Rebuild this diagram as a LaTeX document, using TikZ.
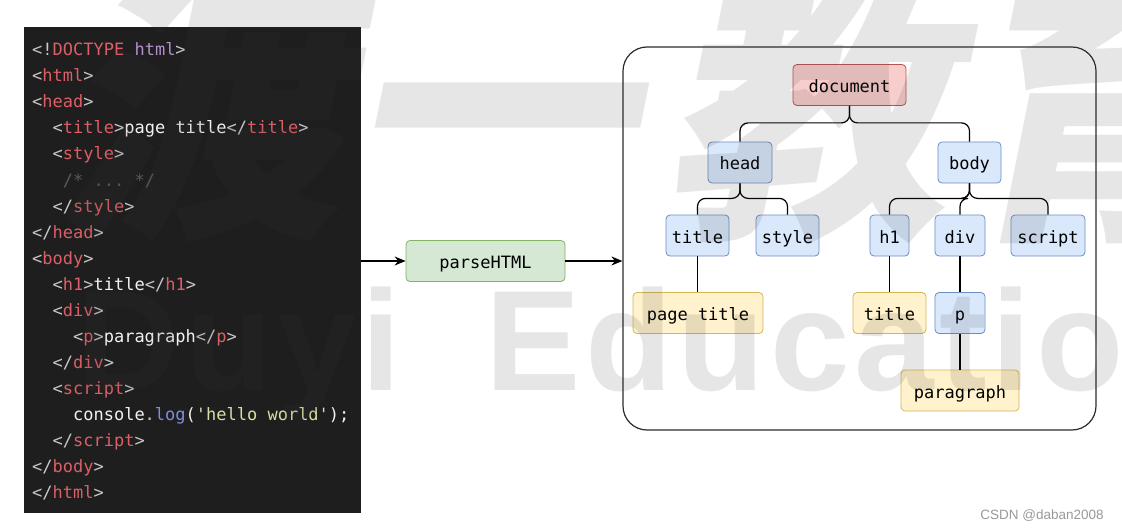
\documentclass[tikz,border=0pt]{standalone}
\usepackage{fontspec}
\setmonofont{DejaVu Sans Mono}
\newfontfamily\wmfont{Liberation Sans}[LetterSpace=3.5]
\newfontfamily\csdnfont{Liberation Sans}
\newfontfamily\cjkfont{Noto Sans CJK SC}
\usetikzlibrary{arrows.meta}

\definecolor{codebg}{HTML}{1E1E1E}
\definecolor{codepunct}{HTML}{C8C8C8}
\definecolor{codetag}{HTML}{DD5E66}
\definecolor{codetext}{HTML}{F2F2F2}
\definecolor{codeattr}{HTML}{B58FD0}
\definecolor{codecomment}{HTML}{5A5A5A}
\definecolor{codefunc}{HTML}{7D8EE0}
\definecolor{codestr}{HTML}{D8DFA2}
\definecolor{nodeblue}{HTML}{DAE8FC}
\definecolor{nodeblueline}{HTML}{6C8EBF}
\definecolor{nodered}{HTML}{F8CECC}
\definecolor{noderedline}{HTML}{B85450}
\definecolor{nodeyellow}{HTML}{FFF2CC}
\definecolor{nodeyellowline}{HTML}{D6B656}
\definecolor{nodegreen}{HTML}{D5E8D4}
\definecolor{nodegreenline}{HTML}{82B366}
\definecolor{framecol}{HTML}{2B2B2B}
\definecolor{wmgray}{HTML}{3A3A3A}
\definecolor{csdngray}{HTML}{999999}

\newcommand{\codefont}{\ttfamily\fontsize{17}{20}\selectfont}
\newcommand{\opentag}[1]{\textcolor{codepunct}{<}\textcolor{codetag}{#1}\textcolor{codepunct}{>}}
\newcommand{\closetag}[1]{\textcolor{codepunct}{</}\textcolor{codetag}{#1}\textcolor{codepunct}{>}}

\begin{document}
\begin{tikzpicture}[x=1pt,y=-1pt,
  codeline/.style={anchor=base west, inner sep=0pt, font=\codefont, text=codetext},
  treebox/.style={draw, rounded corners=4pt, line width=0.8pt, minimum height=41pt,
    inner sep=0pt, text height=15pt, text depth=0pt, font=\codefont},
  bluebox/.style={treebox, fill=nodeblue, draw=nodeblueline},
  redbox/.style={treebox, fill=nodered, draw=noderedline},
  yellowbox/.style={treebox, fill=nodeyellow, draw=nodeyellowline},
  greenbox/.style={treebox, fill=nodegreen, draw=nodegreenline},
  edge/.style={line width=1.2pt, rounded corners=8pt},
  arrow/.style={line width=1.4pt, -{Stealth[length=11pt,width=9pt]}},
  watermark/.style={inner sep=0pt, text=wmgray, opacity=0.125, font=\wmfont\bfseries\fontsize{143}{150}\selectfont},
  cjkmark/.style={inner sep=0pt, text=wmgray, opacity=0.125, xslant=0.2, transform shape,
    font=\cjkfont\bfseries\fontsize{285}{290}\selectfont}]
\useasboundingbox (0,0) rectangle (1122,532);

% source code panel
\node[fill=codebg, minimum width=337pt, minimum height=486pt, inner sep=0pt] (code) at (192.5,270) {};
\node[codeline] (l1) at (32,56) {\textcolor{codepunct}{<!}\textcolor{codetag}{DOCTYPE} \textcolor{codeattr}{html}\textcolor{codepunct}{>}};
\node[codeline] (l2) at (32,82) {\opentag{html}};
\node[codeline] (l3) at (32,108) {\opentag{head}};
\node[codeline] (l4) at (52.5,134) {\opentag{title}page title\closetag{title}};
\node[codeline] (l5) at (52.5,160) {\opentag{style}};
\node[codeline] (l6) at (62.7,186) {\textcolor{codecomment}{/* ... */}};
\node[codeline] (l7) at (52.5,212) {\closetag{style}};
\node[codeline] (l8) at (32,238) {\closetag{head}};
\node[codeline] (l9) at (32,264) {\opentag{body}};
\node[codeline] (l10) at (52.5,290) {\opentag{h1}title\closetag{h1}};
\node[codeline] (l11) at (52.5,316) {\opentag{div}};
\node[codeline] (l12) at (72.9,342) {\opentag{p}paragraph\closetag{p}};
\node[codeline] (l13) at (52.5,368) {\closetag{div}};
\node[codeline] (l14) at (52.5,394) {\opentag{script}};
\node[codeline] (l15) at (72.9,420) {console\textcolor{codepunct}{.}\textcolor{codefunc}{log}(\textcolor{codestr}{'hello world'});};
\node[codeline] (l16) at (52.5,446) {\closetag{script}};
\node[codeline] (l17) at (32,472) {\closetag{body}};
\node[codeline] (l18) at (32,498) {\closetag{html}};

% parser
\node[greenbox, minimum width=159pt] (parse) at (485.5,261) {parseHTML};

% DOM tree
\node[draw=framecol, line width=1.2pt, rounded corners=24pt, minimum width=473pt,
  minimum height=383pt, inner sep=0pt] (dom) at (859.5,238.5) {};
\node[redbox, minimum width=113pt] (document) at (849.5,85) {document};
\node[bluebox, minimum width=64pt] (head) at (740,162.5) {head};
\node[bluebox, minimum width=63pt] (body) at (969.5,162.5) {body};
\node[bluebox, minimum width=63pt] (title) at (697.5,235.5) {title};
\node[bluebox, minimum width=63pt] (style) at (787.5,235.5) {style};
\node[bluebox, minimum width=39pt] (h1) at (889.5,235.5) {h1};
\node[bluebox, minimum width=50pt] (div) at (960,235.5) {div};
\node[bluebox, minimum width=74pt] (script) at (1048,235.5) {script};
\node[yellowbox, minimum width=130pt] (pagetitle) at (698,313) {page title};
\node[yellowbox, minimum width=73pt] (h1text) at (889.5,313) {title};
\node[bluebox, minimum width=50pt] (p) at (960,313) {p};
\node[yellowbox, minimum width=118pt] (paragraph) at (960,390.5) {paragraph};

\draw[edge] (document.south) -- ++(0,17) -| (head.north);
\draw[edge] (document.south) -- ++(0,17) -| (body.north);
\draw[edge] (head.south) -- ++(0,15) -| (title.north);
\draw[edge] (head.south) -- ++(0,15) -| (style.north);
\draw[edge] (body.south) -- ++(0,15) -| (h1.north);
\draw[edge] (body.south) -- ++(0,15) -| (div.north);
\draw[edge] (body.south) -- ++(0,15) -| (script.north);
\draw[edge] (title.south) -- (title.south |- pagetitle.north);
\draw[edge] (h1.south) -- (h1text.north);
\draw[edge] (div.south) -- (p.north);
\draw[edge] (p.south) -- (paragraph.north);

% arrows
\draw[arrow] (code.east |- parse.west) -- (parse.west);
\draw[arrow] (parse.east) -- (parse.east -| dom.west);

% watermarks
\node[cjkmark, anchor=base] (wmdu) at (200,216) {渡};
\node[cjkmark, anchor=base] (wmyi) at (490,216) {一};
\node[cjkmark, anchor=base] (wmjiao) at (805,216) {教};
\node[cjkmark, anchor=base] (wmyu) at (1100,216) {育};
\node[watermark, anchor=base east] (wmduyi) at (402,390) {Duyi};
\node[watermark, anchor=base west] (wmedu) at (485,390) {Education};
\node[inner sep=0pt, text=csdngray, font=\csdnfont\fontsize{13.5}{16}\selectfont] (csdn) at (1042,516) {CSDN @daban2008};
\end{tikzpicture}
\end{document}
